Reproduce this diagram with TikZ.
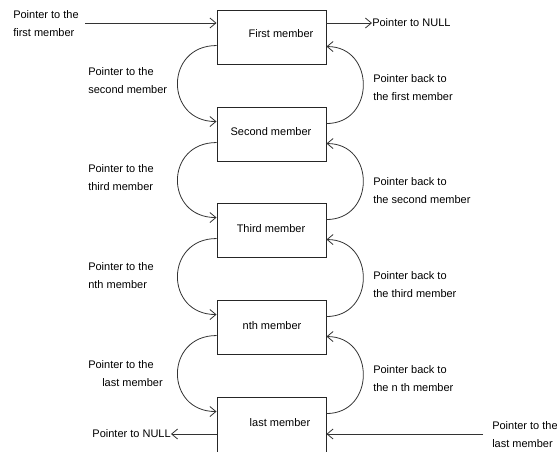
\documentclass[tikz,border=0pt]{standalone}
\usepackage{fontspec}
\setmainfont{Liberation Sans}
\usetikzlibrary{arrows.meta}
\begin{document}
\begin{tikzpicture}[x=0.75pt,y=-0.75pt,
  every node/.style={font=\fontsize{8.25}{13.5}\selectfont, inner sep=0pt},
  memberbox/.style={draw=black!85, line width=0.7pt, minimum width=81.75pt, minimum height=40.5pt},
  lastbox/.style={memberbox, minimum height=42pt},
  lbl/.style={align=left, anchor=west},
  conn/.style={draw=black!80, line width=0.6pt, -{Straight Barb[length=4.5pt,width=7.5pt]}}
]
\useasboundingbox (0,0) rectangle (557,451);
% boxes
\node[memberbox] (b1) at (271.5,37) {};
\node[memberbox] (b2) at (271.5,134) {};
\node[memberbox] (b3) at (271.5,230) {};
\node[memberbox] (b4) at (271.5,327) {};
\node[lastbox]   (b5) at (271.5,425) {};
% box texts
\node (t1) at (281,34) {First member};
\node (t2) at (271,132) {Second member};
\node (t3) at (271,229) {Third member};
\node (t4) at (272,326) {nth member};
\node (t5) at (280,423) {last member};
% top pointers
\node[lbl] (inlbl) at (13,24) {Pointer to the\\first member};
\coordinate (in1) at (85,23);
\draw[conn] (in1) -- (in1 -| b1.west);
\node[anchor=west] (null1) at (372,23) {Pointer to NULL};
\draw[conn] (null1.west -| b1.east) -- (null1.west);
% bottom pointers
\node[anchor=east] (null2) at (171,434) {Pointer to NULL};
\draw[conn] (null2.east -| b5.west) -- (null2.east);
\node[lbl] (lastlbl) at (492,435) {Pointer to the\\last member};
\coordinate (in2) at (483,434);
\draw[conn] (in2) -- (in2 -| b5.east);
% forward curves (left)
\foreach \a/\b in {b1/b2, b2/b3, b3/b4, b4/b5}{
  \draw[conn] ([yshift=-27pt]\a.north west) .. controls +(-52,0) and +(-52,0) .. ([yshift=-11.25pt]\b.north west);
}
% backward curves (right)
\foreach \a/\b in {b1/b2, b2/b3, b3/b4, b4/b5}{
  \draw[conn] ([yshift=-12.75pt]\b.north east) .. controls +(49,0) and +(49,0) .. ([yshift=-27.75pt]\a.north east);
}
% left labels
\node[lbl] (f2) at (88,81) {Pointer to the\\second member};
\node[lbl] (f3) at (88,177.5) {Pointer to the\\third member};
\node[lbl] (f4) at (88,276) {Pointer to the\\nth member};
\node[lbl] (f5) at (88,374) {Pointer to the\\\hspace*{10.5pt}last member};
% right labels
\node[lbl] (r1) at (373,88) {Pointer back to\\the first member};
\node[lbl] (r2) at (373,191) {Pointer back to\\the second member};
\node[lbl] (r3) at (373,284.5) {Pointer back to\\the third member};
\node[lbl] (r4) at (373,378.5) {Pointer back to\\the n th member};
\end{tikzpicture}
\end{document}
